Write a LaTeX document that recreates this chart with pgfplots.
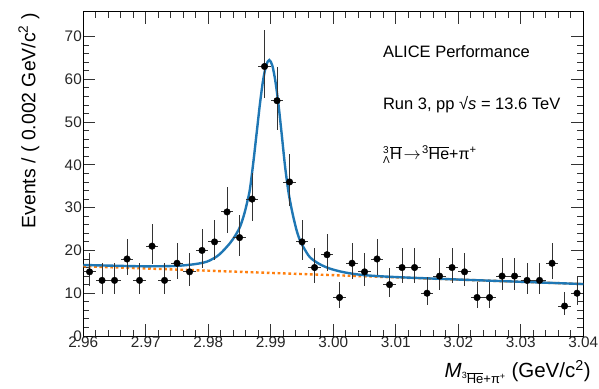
\documentclass[border=0pt]{standalone}
\usepackage{fontspec}
\setmainfont{Liberation Sans}
\usepackage{pgfplots}
\pgfplotsset{compat=1.18}
\usepackage{pgfplotstable}

\definecolor{fitblue}{RGB}{31,119,180}
\definecolor{bkgorange}{RGB}{255,127,14}

\pgfplotstableread{
x y ep em
2.961 15 4.41 3.41
2.963 13 4.14 3.14
2.965 13 4.14 3.14
2.967 18 4.77 3.77
2.969 13 4.14 3.14
2.971 21 5.11 4.11
2.973 13 4.14 3.14
2.975 17 4.65 3.65
2.977 15 4.41 3.41
2.979 20 5.00 4.00
2.981 22 5.22 4.22
2.983 29 5.91 4.91
2.985 23 5.32 4.32
2.987 32 6.18 5.18
2.989 63 8.45 7.45
2.991 55 7.93 6.93
2.993 36 6.52 5.52
2.995 22 5.22 4.22
2.997 16 4.53 3.53
2.999 19 4.89 3.89
3.001 9 3.54 2.54
3.003 17 4.65 3.65
3.005 15 4.41 3.41
3.007 18 4.77 3.77
3.009 12 4.00 3.00
3.011 16 4.53 3.53
3.013 16 4.53 3.53
3.015 10 3.70 2.70
3.017 14 4.27 3.27
3.019 16 4.53 3.53
3.021 15 4.41 3.41
3.023 9 3.54 2.54
3.025 9 3.54 2.54
3.027 14 4.27 3.27
3.029 14 4.27 3.27
3.031 13 4.14 3.14
3.033 13 4.14 3.14
3.035 17 4.65 3.65
3.037 7 3.19 2.19
3.039 10 3.70 2.70
}\datatab

\pgfplotstableread{
x y
2.96000 16.60
2.96476 16.43
2.96976 16.29
2.97476 16.38
2.97776 16.78
2.97976 17.37
2.98136 18.59
2.98226 19.74
2.98346 21.68
2.98426 23.34
2.98507 25.50
2.98576 28.56
2.98626 31.54
2.98667 34.41
2.98726 41.28
2.98776 47.76
2.98826 54.23
2.98876 59.71
2.98926 63.28
2.98976 64.50
2.99026 63.13
2.99076 59.30
2.99126 53.68
2.99176 46.95
2.99226 39.92
2.99280 33.90
2.99326 30.20
2.99360 27.85
2.99416 24.52
2.99467 22.35
2.99526 20.67
2.99626 18.41
2.99776 16.84
2.99946 15.75
3.00176 14.88
3.00476 14.25
3.00976 13.79
3.01976 13.21
3.03000 12.67
3.04000 12.14
}\fittab

\pgfplotstableread{
x y
2.96 16.30
3.04 12.14
}\bkgtab

\begin{document}
\begin{tikzpicture}
\path[use as bounding box] (-83.3pt,-52pt) rectangle (515.7pt,336pt);
\begin{axis}[
  at={(0pt,0pt)}, anchor=south west,
  width=500pt, height=324.3pt, scale only axis,
  xmin=2.96, xmax=3.04, ymin=0, ymax=75.8,
  xtick={2.96,2.97,2.98,2.99,3.00,3.01,3.02,3.03,3.04},
  minor x tick num=4,
  ytick={0,10,20,30,40,50,60,70},
  minor y tick num=4,
  scaled x ticks=false,
  tick align=inside, xtick pos=both, ytick pos=both,
  major tick length=12pt, minor tick length=6pt,
  every tick/.style={black!80, line width=0.8pt},
  axis line style={line width=0.8pt, black},
  /pgf/number format/assume math mode=true,
  tick label style={font=\fontsize{15.3}{15.3}\selectfont, black!85},
  xticklabel style={/pgf/number format/.cd, fixed, fixed zerofill, precision=2, /tikz/.cd, yshift=3pt},
  yticklabel style={xshift=2pt},
  xlabel={\textit{M}\raisebox{-0.5ex}{\fontsize{13}{13}\selectfont\raisebox{0.75ex}{\fontsize{9}{9}\selectfont 3}$\overline{\mbox{He}}$+π\textsuperscript{+}} (GeV/c\textsuperscript{2})},
  xlabel style={at={(axis description cs:1.015,-0.1295)}, anchor=base east, inner sep=0pt, font=\fontsize{20.5}{20.5}\selectfont},
  ylabel={Events / ( 0.002 GeV/c\textsuperscript{2} )},
  ylabel style={at={(axis description cs:-0.1086,0.996)}, anchor=east, inner sep=0pt, font=\fontsize{19.4}{19.4}\selectfont},
  clip=true,
]
\addplot[bkgorange, line width=2.4pt, dash pattern=on 2.7pt off 2.7pt] table[x=x,y=y]{\bkgtab};
\addplot[fitblue, line width=2.4pt, smooth, tension=0.5] table[x=x,y=y]{\fittab};
\addplot[only marks, mark=*, mark size=3.3pt, black, mark options={fill=black},
  error bars/.cd, x dir=both, x fixed=0.001, y dir=both, y explicit,
  error bar style={line width=0.9pt, black!80}, error mark=none]
  table[x=x, y=y, y error plus=ep, y error minus=em]{\datatab};
\node[anchor=base west, inner sep=0pt, font=\fontsize{16.5}{16.5}\selectfont] at (axis description cs:0.599,0.8596) {ALICE Performance};
\node[anchor=base west, inner sep=0pt, font=\fontsize{16.5}{16.5}\selectfont] at (axis description cs:0.599,0.6969) {Run 3, pp √\textit{s} = 13.6 TeV};
\node[anchor=base west, inner sep=0pt, font=\fontsize{16}{16}\selectfont] at (axis description cs:0.599,0.5448) {$^{\mbox{\fontsize{10}{10}\selectfont 3}}_{\mbox{\fontsize{10}{10}\selectfont Λ}}$$\overline{\mbox{H}}$\hspace{2pt}$\rightarrow$\hspace{1pt}\textsuperscript{3}$\overline{\mbox{He}}$+π\textsuperscript{+}};
\end{axis}
\end{tikzpicture}
\end{document}
